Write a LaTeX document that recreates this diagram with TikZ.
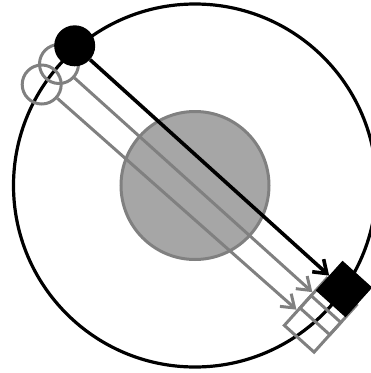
\documentclass[tikz,border=0pt]{standalone}
\usetikzlibrary{arrows.meta}
\definecolor{lgray}{RGB}{128,128,128}
\definecolor{fgray}{RGB}{166,166,166}
\begin{document}
\begin{tikzpicture}[x=1pt,y=-1pt,
  bigc/.style={circle,draw=black,line width=3.2pt,minimum size=363pt,inner sep=0pt},
  core/.style={circle,draw=lgray,fill=fgray,line width=3pt,minimum size=148pt,inner sep=0pt},
  src/.style={circle,fill=black,minimum size=41pt,inner sep=0pt},
  gsrc/.style={circle,draw=lgray,line width=3pt,minimum size=39pt,inner sep=0pt},
  det/.style={rectangle,fill=black,draw=black,line width=1pt,minimum size=39pt,inner sep=0pt,rotate=-42},
  gdet/.style={rectangle,draw=lgray,line width=3pt,minimum size=40pt,inner sep=0pt,rotate=-42},
  ray/.style={line width=3.6pt,-{Straight Barb[length=12pt,width=17pt]}},
  grayray/.style={ray,draw=lgray,line width=3pt}
]
\clip (0,0) rectangle (371,373);
\node[bigc] (outer) at (195,185.5) {};
\node[core] (core) at (195,185.5) {};
\node[gdet] (s2) at (312.6,323.9) {};
\node[gdet] (s1) at (328.3,306.5) {};
\node[gsrc] (d2) at (41.7,84.5) {};
\node[gsrc] (d1) at (59,64) {};
\draw[grayray] (d2) -- (s2);
\draw[grayray] (d1) -- (s1);
\node[det] (s0) at (344,289) {};
\node[src] (d0) at (74.7,45.8) {};
\draw[ray] (d0) -- (s0);
\end{tikzpicture}
\end{document}
